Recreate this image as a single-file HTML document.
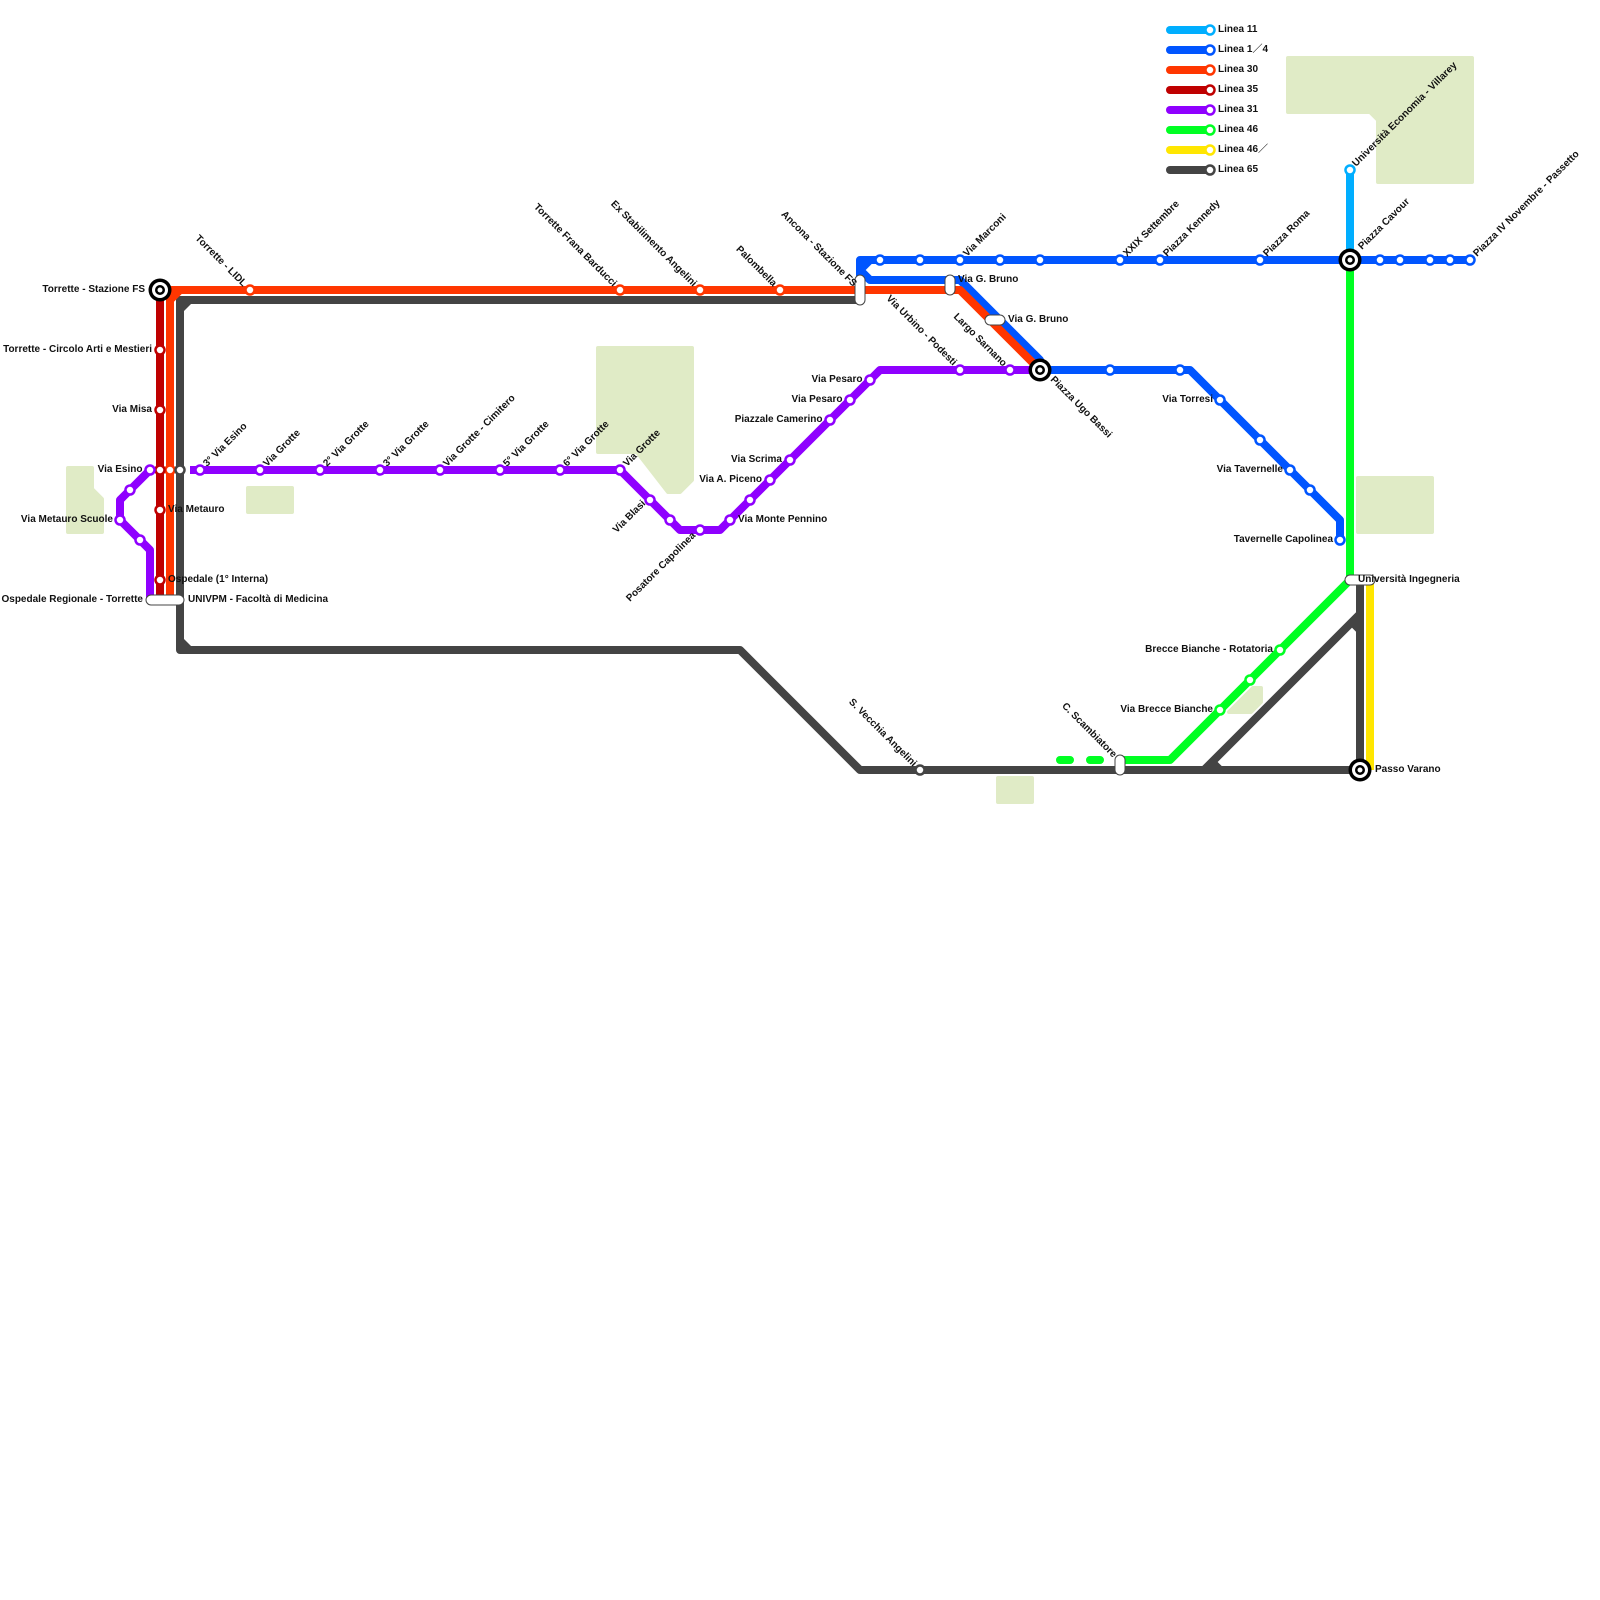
<!DOCTYPE html>
<html><head><meta charset="utf-8"><style>
html,body{margin:0;padding:0;background:#fff;width:1600px;height:1600px;overflow:hidden}
svg{display:block}
text{font-family:"Liberation Sans","Noto Sans CJK JP",sans-serif;font-size:10px;font-weight:bold;fill:#111}
.l{fill:none;stroke-width:8;stroke-linejoin:round;stroke-linecap:butt}
.s circle{fill:#fff;stroke-width:2.5;r:4.5px}
.e{text-anchor:end}
.p{fill:#fff;stroke:#444;stroke-width:1}
</style></head><body>
<svg width="1600" height="1600" viewBox="0 0 1600 1600" xmlns="http://www.w3.org/2000/svg">
<rect width="1600" height="1600" fill="#fff"/>
<g fill="#e0ebc6" stroke="#e0ebc6" stroke-width="4" stroke-linejoin="round">
<path d="M1288 58H1472V182H1378V120L1370 112H1288Z"/>
<path d="M598 348H692V480L680 492H668L637 452H598Z"/>
<path d="M68 468H92V489L102 499V532H68Z"/>
<rect x="248" y="488" width="44" height="24"/>
<rect x="1358" y="478" width="74" height="54"/>
<path d="M1229 712L1253 688H1261V702L1251 712Z"/>
<rect x="998" y="778" width="34" height="24"/>
</g>
<!-- lines -->
<g class="lines">
<path class="l" stroke="#444" stroke-linejoin="miter" d="M860 300H180V650H740L860 770H1360M1360 585V770M1204 770L1360 614M1210 760L1220 770M1350 620L1360 630"/>
<path fill="#444" d="M183 312L192 303H183ZM183 638L192 647H183ZM1200 774L1212 757L1224 774Z"/>
<path class="l" stroke="#ffe600" d="M1370 580V770"/>
<path class="l" stroke="#00aeff" d="M1350 170V260"/>
<path class="l" stroke="#00ff22" d="M1350 260V580L1170 760H1120"/>
<path d="M1060 760H1070M1090 760H1100" fill="none" stroke="#00ff22" stroke-width="8" stroke-linecap="round"/>
<path class="l" stroke="#0055ff" stroke-linejoin="miter" d="M860 300V260H1470M870 260L860 270L870 280H960L1040 360V370H1190L1340 520V540"/>
<path class="l" stroke="#ff3600" d="M170 600V300L180 290H960L1038 368M160 290H180"/>
<path class="l" stroke="#bf0000" d="M160 290V600"/>
<path class="l" stroke="#8f00ff" d="M150 600V550L120 520V500L150 470"/>
<path class="l" stroke="#8f00ff" stroke-linecap="round" d="M190 470H620L680 530H720L880 370H1040"/>
</g>
<!-- legend -->
<g stroke-width="8" stroke-linecap="round" fill="none">
<path stroke="#00aeff" d="M1170 30H1210"/><path stroke="#0055ff" d="M1170 50H1210"/><path stroke="#ff3600" d="M1170 70H1210"/><path stroke="#bf0000" d="M1170 90H1210"/><path stroke="#8f00ff" d="M1170 110H1210"/><path stroke="#00ff22" d="M1170 130H1210"/><path stroke="#ffe600" d="M1170 150H1210"/><path stroke="#444" d="M1170 170H1210"/>
</g>
<g class="s">
<g stroke="#00aeff"><circle cx="1210" cy="30" r="4.5"/><circle cx="1350" cy="170" r="4.5"/></g>
<g stroke="#0055ff"><circle cx="1210" cy="50" r="4.5"/>
<circle cx="880" cy="260" r="4.5"/><circle cx="920" cy="260" r="4.5"/><circle cx="960" cy="260" r="4.5"/><circle cx="1000" cy="260" r="4.5"/><circle cx="1040" cy="260" r="4.5"/><circle cx="1120" cy="260" r="4.5"/><circle cx="1160" cy="260" r="4.5"/><circle cx="1260" cy="260" r="4.5"/><circle cx="1380" cy="260" r="4.5"/><circle cx="1400" cy="260" r="4.5"/><circle cx="1430" cy="260" r="4.5"/><circle cx="1450" cy="260" r="4.5"/><circle cx="1470" cy="260" r="4.5"/>
<circle cx="1110" cy="370" r="4.5"/><circle cx="1180" cy="370" r="4.5"/><circle cx="1220" cy="400" r="4.5"/><circle cx="1260" cy="440" r="4.5"/><circle cx="1290" cy="470" r="4.5"/><circle cx="1310" cy="490" r="4.5"/><circle cx="1340" cy="540" r="4.5"/></g>
<g stroke="#ff3600"><circle cx="1210" cy="70" r="4.5"/><circle cx="250" cy="290" r="4.5"/><circle cx="620" cy="290" r="4.5"/><circle cx="700" cy="290" r="4.5"/><circle cx="780" cy="290" r="4.5"/><circle cx="170" cy="470" r="4.5"/></g>
<g stroke="#bf0000"><circle cx="1210" cy="90" r="4.5"/><circle cx="160" cy="350" r="4.5"/><circle cx="160" cy="410" r="4.5"/><circle cx="160" cy="470" r="4.5"/><circle cx="160" cy="510" r="4.5"/><circle cx="160" cy="580" r="4.5"/></g>
<g stroke="#8f00ff"><circle cx="1210" cy="110" r="4.5"/>
<circle cx="150" cy="470" r="4.5"/><circle cx="130" cy="490" r="4.5"/><circle cx="120" cy="520" r="4.5"/><circle cx="140" cy="540" r="4.5"/>
<circle cx="200" cy="470" r="4.5"/><circle cx="260" cy="470" r="4.5"/><circle cx="320" cy="470" r="4.5"/><circle cx="380" cy="470" r="4.5"/><circle cx="440" cy="470" r="4.5"/><circle cx="500" cy="470" r="4.5"/><circle cx="560" cy="470" r="4.5"/><circle cx="620" cy="470" r="4.5"/>
<circle cx="650" cy="500" r="4.5"/><circle cx="670" cy="520" r="4.5"/><circle cx="700" cy="530" r="4.5"/><circle cx="730" cy="520" r="4.5"/><circle cx="750" cy="500" r="4.5"/><circle cx="770" cy="480" r="4.5"/><circle cx="790" cy="460" r="4.5"/><circle cx="830" cy="420" r="4.5"/><circle cx="850" cy="400" r="4.5"/><circle cx="870" cy="380" r="4.5"/><circle cx="960" cy="370" r="4.5"/><circle cx="1010" cy="370" r="4.5"/></g>
<g stroke="#00ff22"><circle cx="1210" cy="130" r="4.5"/><circle cx="1280" cy="650" r="4.5"/><circle cx="1250" cy="680" r="4.5"/><circle cx="1220" cy="710" r="4.5"/></g>
<g stroke="#ffe600"><circle cx="1210" cy="150" r="4.5"/></g>
<g stroke="#444"><circle cx="1210" cy="170" r="4.5"/><circle cx="180" cy="470" r="4.5"/><circle cx="920" cy="770" r="4.5"/></g>
</g>
<!-- interchanges -->
<g>
<circle cx="160" cy="290" r="11.5" fill="#000"/><circle cx="160" cy="290" r="8" fill="#fff"/><circle cx="160" cy="290" r="5" fill="#000"/><circle cx="160" cy="290" r="2.5" fill="#fff"/>
<circle cx="1040" cy="370" r="11.5" fill="#000"/><circle cx="1040" cy="370" r="8" fill="#fff"/><circle cx="1040" cy="370" r="5" fill="#000"/><circle cx="1040" cy="370" r="2.5" fill="#fff"/>
<circle cx="1350" cy="260" r="11.5" fill="#000"/><circle cx="1350" cy="260" r="8" fill="#fff"/><circle cx="1350" cy="260" r="5" fill="#000"/><circle cx="1350" cy="260" r="2.5" fill="#fff"/>
<circle cx="1360" cy="770" r="11.5" fill="#000"/><circle cx="1360" cy="770" r="8" fill="#fff"/><circle cx="1360" cy="770" r="5" fill="#000"/><circle cx="1360" cy="770" r="2.5" fill="#fff"/>
</g>
<!-- pills -->
<rect class="p" x="146" y="595" width="38" height="10" rx="5"/>
<rect class="p" x="855" y="275" width="10" height="30" rx="5"/>
<rect class="p" x="945" y="275" width="10" height="20" rx="5"/>
<rect class="p" x="985" y="315" width="20" height="10" rx="5"/>
<rect class="p" x="1115" y="755" width="10" height="20" rx="5"/>
<rect class="p" x="1345" y="575" width="30" height="10" rx="5"/>
<!-- legend text -->
<text x="1218" y="32">Linea 11</text><text x="1218" y="52">Linea 1／4</text><text x="1218" y="72">Linea 30</text><text x="1218" y="92">Linea 35</text><text x="1218" y="112">Linea 31</text><text x="1218" y="132">Linea 46</text><text x="1218" y="152">Linea 46／</text><text x="1218" y="172">Linea 65</text>
<!-- horizontal labels -->
<text class="e" x="145" y="292">Torrette - Stazione FS</text>
<text class="e" x="152" y="352">Torrette - Circolo Arti e Mestieri</text>
<text class="e" x="152" y="412">Via Misa</text>
<text class="e" x="142.5" y="472">Via Esino</text>
<text x="168" y="512">Via Metauro</text>
<text class="e" x="113" y="522">Via Metauro Scuole</text>
<text x="168" y="582">Ospedale (1° Interna)</text>
<text class="e" x="143" y="602">Ospedale Regionale - Torrette</text>
<text x="188" y="602">UNIVPM - Facoltà di Medicina</text>
<text class="e" x="862.5" y="382">Via Pesaro</text>
<text class="e" x="842.5" y="402">Via Pesaro</text>
<text class="e" x="822.5" y="422">Piazzale Camerino</text>
<text class="e" x="782" y="462">Via Scrima</text>
<text class="e" x="762" y="482">Via A. Piceno</text>
<text x="738" y="522">Via Monte Pennino</text>
<text x="958" y="282">Via G. Bruno</text>
<text x="1008" y="322">Via G. Bruno</text>
<text class="e" x="1213" y="402">Via Torresi</text>
<text class="e" x="1283" y="472">Via Tavernelle</text>
<text class="e" x="1333" y="542">Tavernelle Capolinea</text>
<text x="1358" y="582">Università Ingegneria</text>
<text class="e" x="1273" y="652">Brecce Bianche - Rotatoria</text>
<text class="e" x="1213" y="712">Via Brecce Bianche</text>
<text x="1375" y="772">Passo Varano</text>
<!-- up-right labels -->
<text transform="translate(207,467) rotate(-45)">3° Via Esino</text>
<text transform="translate(267,467) rotate(-45)">Via Grotte</text>
<text transform="translate(327,467) rotate(-45)">2° Via Grotte</text>
<text transform="translate(387,467) rotate(-45)">3° Via Grotte</text>
<text transform="translate(447,467) rotate(-45)">Via Grotte - Cimitero</text>
<text transform="translate(507,467) rotate(-45)">5° Via Grotte</text>
<text transform="translate(567,467) rotate(-45)">6° Via Grotte</text>
<text transform="translate(627,467) rotate(-45)">Via Grotte</text>
<text transform="translate(967,257) rotate(-45)">Via Marconi</text>
<text transform="translate(1127,257) rotate(-45)">XXIX Settembre</text>
<text transform="translate(1167,257) rotate(-45)">Piazza Kennedy</text>
<text transform="translate(1267,257) rotate(-45)">Piazza Roma</text>
<text transform="translate(1362,250) rotate(-45)">Piazza Cavour</text>
<text transform="translate(1356,167) rotate(-45)">Università Economia - Villarey</text>
<text transform="translate(1477,257) rotate(-45)">Piazza IV Novembre - Passetto</text>
<!-- down-left labels -->
<text class="e" transform="translate(646,504) rotate(-45)">Via Blasi</text>
<text class="e" transform="translate(696,536) rotate(-45)">Posatore Capolinea</text>
<!-- up-left labels -->
<text class="e" transform="translate(243,287) rotate(45)">Torrette - LIDL</text>
<text class="e" transform="translate(613,287) rotate(45)">Torrette Frana Barducci</text>
<text class="e" transform="translate(693,287) rotate(45)">Ex Stabilimento Angelini</text>
<text class="e" transform="translate(773,287) rotate(45)">Palombella</text>
<text class="e" transform="translate(853,287) rotate(45)">Ancona - Stazione FS</text>
<text class="e" transform="translate(953,366) rotate(45)">Via Urbino - Podesti</text>
<text class="e" transform="translate(1003,367) rotate(45)">Largo Sarnano</text>
<text class="e" transform="translate(913,767) rotate(45)">S. Vecchia Angelini</text>
<text class="e" transform="translate(1113,758) rotate(45)">C. Scambiatore</text>
<!-- down-right -->
<text transform="translate(1050,380) rotate(45)">Piazza Ugo Bassi</text>
</svg>
</body></html>
